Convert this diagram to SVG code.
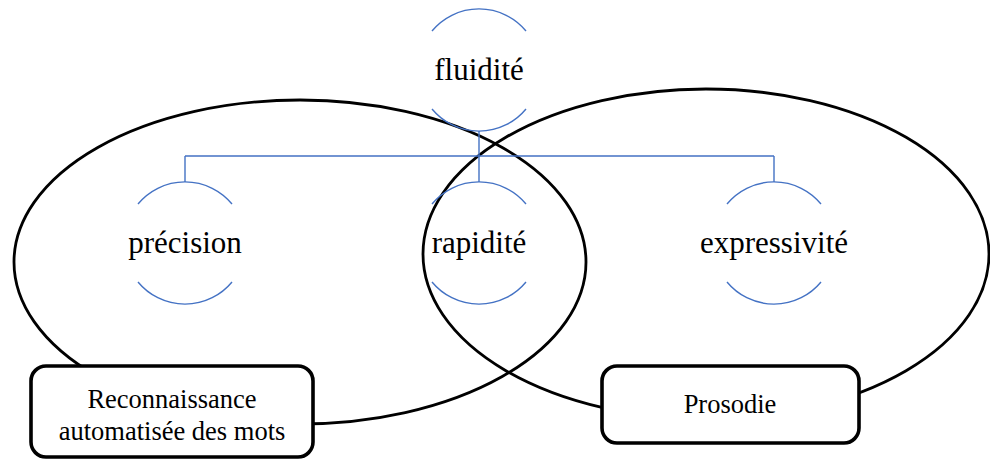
<svg xmlns="http://www.w3.org/2000/svg" width="990" height="460" viewBox="0 0 990 460">
<style>
.ell{fill:none;stroke:#000;stroke-width:2.8}
.arc{fill:none;stroke:#4472C4;stroke-width:1.4}
.conn{fill:none;stroke:#4472C4;stroke-width:1.4}
.box{fill:#fff;stroke:#000;stroke-width:3.6}
</style>
<rect width="990" height="460" fill="#fff"/>
<g id="sets">
<ellipse class="ell" cx="300" cy="262" rx="286" ry="162"/>
<ellipse class="ell" cx="706" cy="254" rx="283" ry="165"/>
</g>
<g id="connectors">
<path class="conn" d="M479 131 V156 M185 156 H774 M185 156 V182 M479 156 V182 M774 156 V182"/>
</g>
<g font-family="Liberation Serif, DejaVu Serif, serif" font-size="31" fill="#000" text-anchor="middle">
<g id="fluidite">
<path class="arc" d="M432 31 A61 61 0 0 1 526 31 M432 109 A61 61 0 0 0 526 109"/>
<text x="479" y="80">fluidité</text>
</g>
<g id="precision">
<path class="arc" d="M138 204 A61 61 0 0 1 232 204 M138 282 A61 61 0 0 0 232 282"/>
<text x="185" y="253">précision</text>
</g>
<g id="rapidite">
<path class="arc" d="M432 204 A61 61 0 0 1 526 204 M432 282 A61 61 0 0 0 526 282"/>
<text x="479" y="253">rapidité</text>
</g>
<g id="expressivite">
<path class="arc" d="M727 204 A61 61 0 0 1 821 204 M727 282 A61 61 0 0 0 821 282"/>
<text x="774" y="253">expressivité</text>
</g>
<g id="reconnaissance" font-size="26.5">
<rect class="box" x="31" y="366" width="282" height="91" rx="15"/>
<text x="172" y="408">Reconnaissance</text>
<text x="172" y="440">automatisée des mots</text>
</g>
<g id="prosodie" font-size="26.5">
<rect class="box" x="602" y="366" width="257" height="77" rx="15"/>
<text x="730" y="413">Prosodie</text>
</g>
</g>
</svg>
